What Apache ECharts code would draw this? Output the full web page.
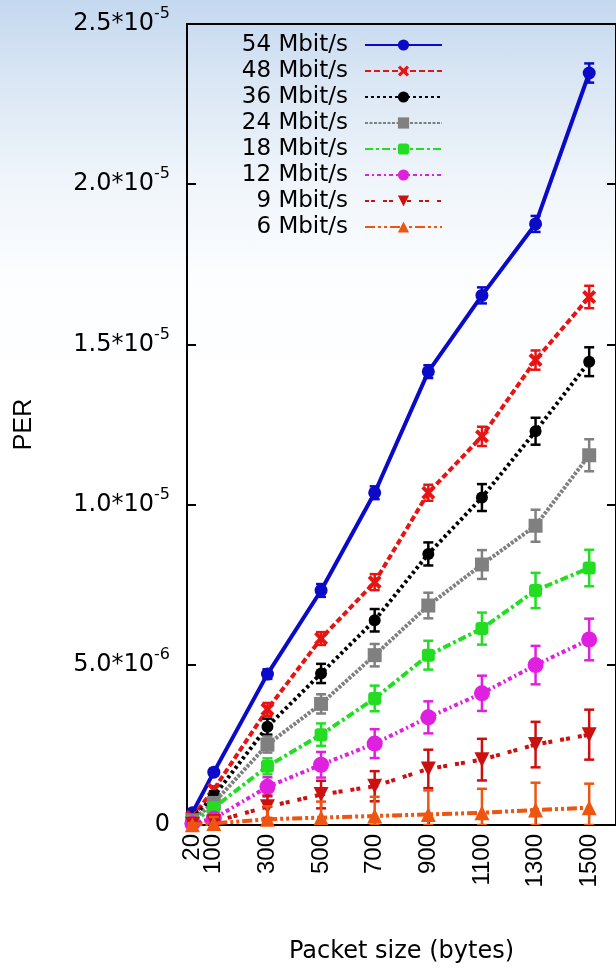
<!DOCTYPE html>
<html>
<head>
<meta charset="utf-8">
<script src="https://cdn.jsdelivr.net/npm/echarts@6/dist/echarts.min.js"></script>
<style>
html,body{margin:0;padding:0;}
#chart{width:616px;height:969px;background:linear-gradient(180deg,#c4d8ef 0%,#d9e6f4 8%,#eef4fa 18%,#fbfdff 28%,#ffffff 40%,#ffffff 100%);}
</style>
</head>
<body>
<div id="chart"></div>
<script>
// Packet sizes (bytes)
var packetSizes = [20, 100, 300, 500, 700, 900, 1100, 1300, 1500];
var xTicks = [20, 100, 300, 500, 700, 900, 1100, 1300, 1500];
var yTickLabels = ['{m|0}', '{m|5.0*10}{s|-6}', '{m|1.0*10}{s|-5}', '{m|1.5*10}{s|-5}', '{m|2.0*10}{s|-5}', '{m|2.5*10}{s|-5}'];

var rateNames = ['54 Mbit/s', '48 Mbit/s', '36 Mbit/s', '24 Mbit/s', '18 Mbit/s', '12 Mbit/s', '9 Mbit/s', '6 Mbit/s'];

// PER values per rate
var per54 = [0.38e-6, 1.65e-6, 4.71e-6, 7.32e-6, 10.37e-6, 14.15e-6, 16.53e-6, 18.76e-6, 23.47e-6];
var per48 = [0.25e-6, 1.11e-6, 3.61e-6, 5.82e-6, 7.58e-6, 10.37e-6, 12.13e-6, 14.51e-6, 16.48e-6];
var per36 = [0.20e-6, 0.90e-6, 3.07e-6, 4.73e-6, 6.39e-6, 8.46e-6, 10.22e-6, 12.29e-6, 14.46e-6];
var per24 = [0.15e-6, 0.69e-6, 2.51e-6, 3.78e-6, 5.30e-6, 6.85e-6, 8.13e-6, 9.34e-6, 11.54e-6];
var per18 = [0.10e-6, 0.54e-6, 1.83e-6, 2.82e-6, 3.95e-6, 5.30e-6, 6.13e-6, 7.32e-6, 8.02e-6];
var per12 = [0.05e-6, 0.20e-6, 1.19e-6, 1.88e-6, 2.54e-6, 3.36e-6, 4.11e-6, 4.99e-6, 5.79e-6];
var per9  = [0.02e-6, 0.10e-6, 0.57e-6, 0.95e-6, 1.21e-6, 1.75e-6, 2.04e-6, 2.51e-6, 2.82e-6];
var per6  = [0.01e-6, 0.05e-6, 0.18e-6, 0.23e-6, 0.28e-6, 0.33e-6, 0.38e-6, 0.47e-6, 0.54e-6];

// Error bar half-widths per rate
var err54 = [0.05e-6, 0.10e-6, 0.15e-6, 0.20e-6, 0.20e-6, 0.20e-6, 0.25e-6, 0.25e-6, 0.30e-6];
var err48 = [0.05e-6, 0.10e-6, 0.20e-6, 0.20e-6, 0.25e-6, 0.25e-6, 0.30e-6, 0.30e-6, 0.35e-6];
var err36 = [0.05e-6, 0.15e-6, 0.25e-6, 0.30e-6, 0.35e-6, 0.36e-6, 0.42e-6, 0.42e-6, 0.45e-6];
var err24 = [0.05e-6, 0.15e-6, 0.25e-6, 0.30e-6, 0.35e-6, 0.40e-6, 0.45e-6, 0.50e-6, 0.50e-6];
var err18 = [0.05e-6, 0.15e-6, 0.25e-6, 0.35e-6, 0.40e-6, 0.45e-6, 0.50e-6, 0.55e-6, 0.57e-6];
var err12 = [0.05e-6, 0.15e-6, 0.30e-6, 0.40e-6, 0.45e-6, 0.50e-6, 0.55e-6, 0.60e-6, 0.65e-6];
var err9  = [0.05e-6, 0.20e-6, 0.35e-6, 0.43e-6, 0.47e-6, 0.60e-6, 0.65e-6, 0.71e-6, 0.78e-6];
var err6  = [0.05e-6, 0.20e-6, 0.40e-6, 0.50e-6, 0.60e-6, 0.75e-6, 0.75e-6, 0.85e-6, 0.75e-6];

var perValues = [per54, per48, per36, per24, per18, per12, per9, per6];
var errValues = [err54, err48, err36, err24, err18, err12, err9, err6];

var colors = ['#0a0ac8', '#e81414', '#000000', '#808080', '#22dd22', '#e020e0', '#cc1010', '#ee5511'];
var dashes = ['solid', [6, 3], [3, 3], [3, 1.5], [8, 3, 3, 3], [4, 3, 2, 3], [4, 2, 4, 8], [10, 3, 3, 3, 3, 3]];
var xPath = 'path://M0,2 L2,0 L5,3 L8,0 L10,2 L7,5 L10,8 L8,10 L5,7 L2,10 L0,8 L3,5 Z';
var symbols = ['circle', xPath, 'circle', 'rect', 'roundRect', 'circle', 'triangle', 'triangle'];
var symbolSizes = [13, 14, 12, 14, 13, 16, 15, 15];
var symbolRotates = [0, 0, 0, 0, 0, 0, 180, 0];

var series = [];
rateNames.forEach(function (name, i) {
  var pts = packetSizes.map(function (x, j) { return [x, perValues[i][j]]; });
  series.push({
    name: name,
    type: 'line',
    xAxisIndex: 0,
    yAxisIndex: 0,
    data: pts,
    symbol: symbols[i],
    symbolSize: symbolSizes[i],
    symbolRotate: symbolRotates[i],
    showAllSymbol: true,
    lineStyle: { color: colors[i], width: 4, type: dashes[i] },
    itemStyle: { color: colors[i] },
    z: 3 + i,
    animation: false
  });
});
rateNames.forEach(function (name, i) {
  var pts = packetSizes.map(function (x, j) { return [x, perValues[i][j], errValues[i][j]]; });
  var col = colors[i];
  series.push({
    name: name + ' error',
    type: 'custom',
    xAxisIndex: 0,
    yAxisIndex: 0,
    data: pts,
    z: 3 + i,
    clip: true,
    animation: false,
    renderItem: function (params, api) {
      var x = api.value(0), y = api.value(1), e = api.value(2);
      var top = api.coord([x, y + e]);
      var bot = api.coord([x, Math.max(0, y - e)]);
      var cw = 5;
      var st = { stroke: col, lineWidth: 2.5 };
      return {
        type: 'group',
        children: [
          { type: 'line', shape: { x1: top[0], y1: top[1], x2: bot[0], y2: bot[1] }, style: st },
          { type: 'line', shape: { x1: top[0] - cw, y1: top[1], x2: top[0] + cw, y2: top[1] }, style: st },
          { type: 'line', shape: { x1: bot[0] - cw, y1: bot[1], x2: bot[0] + cw, y2: bot[1] }, style: st }
        ]
      };
    }
  });
});

var xLabelStyle = { rotate: 90, margin: 9, fontFamily: 'Liberation Sans', fontSize: 24, color: '#000' };
// the first two ticks sit very close together; give the second its own label axis so neither is dropped
var xTicksMain = xTicks.filter(function (v, i) { return i !== 1; });
var xTicksSecond = xTicks.filter(function (v, i) { return i === 1; });

var chart = echarts.init(document.getElementById('chart'), null, { renderer: 'canvas' });
chart.setOption({
  backgroundColor: 'transparent',
  animation: false,
  grid: { left: 187, top: 24, right: -4, bottom: 140, show: true, borderColor: '#000', borderWidth: 2, backgroundColor: 'transparent' },
  legend: {
    data: rateNames,
    orient: 'vertical',
    align: 'right',
    right: 173,
    top: 32,
    padding: 0,
    itemGap: 0,
    itemWidth: 77,
    itemHeight: 14,
    textStyle: { fontFamily: 'DejaVu Sans', fontSize: 23, color: '#000', lineHeight: 26, padding: [0, 12, 0, 0] }
  },
  xAxis: [{
    type: 'value',
    min: 0,
    max: 1600,
    position: 'bottom',
    name: 'Packet size (bytes)',
    nameLocation: 'middle',
    nameGap: 115,
    nameTextStyle: { fontFamily: 'DejaVu Sans', fontSize: 24, color: '#000' },
    axisLine: { show: true, onZero: false, lineStyle: { color: '#000', width: 2 } },
    axisTick: { show: true, inside: true, length: 8, customValues: xTicks, lineStyle: { color: '#000', width: 2 } },
    axisLabel: Object.assign({ customValues: xTicksMain, formatter: function (v) { return String(v); } }, xLabelStyle),
    splitLine: { show: false }
  }, {
    type: 'value',
    min: 0,
    max: 1600,
    position: 'bottom',
    offset: 0,
    axisLine: { show: false, onZero: false },
    axisTick: { show: false },
    axisLabel: Object.assign({ customValues: xTicksSecond, formatter: function (v) { return String(v); } }, xLabelStyle),
    splitLine: { show: false }
  }],
  yAxis: [{
    type: 'value',
    min: 0,
    max: 2.5e-5,
    interval: 5e-6,
    position: 'left',
    name: 'PER',
    nameLocation: 'middle',
    nameRotate: 90,
    nameGap: 150,
    nameTextStyle: { fontFamily: 'Liberation Sans', fontSize: 25, color: '#000' },
    axisLine: { show: true, onZero: false, lineStyle: { color: '#000', width: 2 } },
    axisTick: { show: true, inside: true, length: 9, lineStyle: { color: '#000', width: 2 } },
    axisLabel: {
      margin: 17,
      formatter: function (v, idx) { return yTickLabels[idx]; },
      rich: {
        m: { fontFamily: 'DejaVu Sans', fontSize: 24, color: '#000', lineHeight: 36 },
        s: { fontFamily: 'DejaVu Sans', fontSize: 16, color: '#000', lineHeight: 14, verticalAlign: 'top' }
      }
    },
    splitLine: { show: false }
  }, {
    type: 'value',
    min: 0,
    max: 2.5e-5,
    interval: 5e-6,
    position: 'right',
    axisLine: { show: true, onZero: false, lineStyle: { color: '#000', width: 2 } },
    axisTick: { show: true, inside: true, length: 9, lineStyle: { color: '#000', width: 2 } },
    axisLabel: { show: false },
    splitLine: { show: false }
  }],
  series: series
});
</script>
</body>
</html>
